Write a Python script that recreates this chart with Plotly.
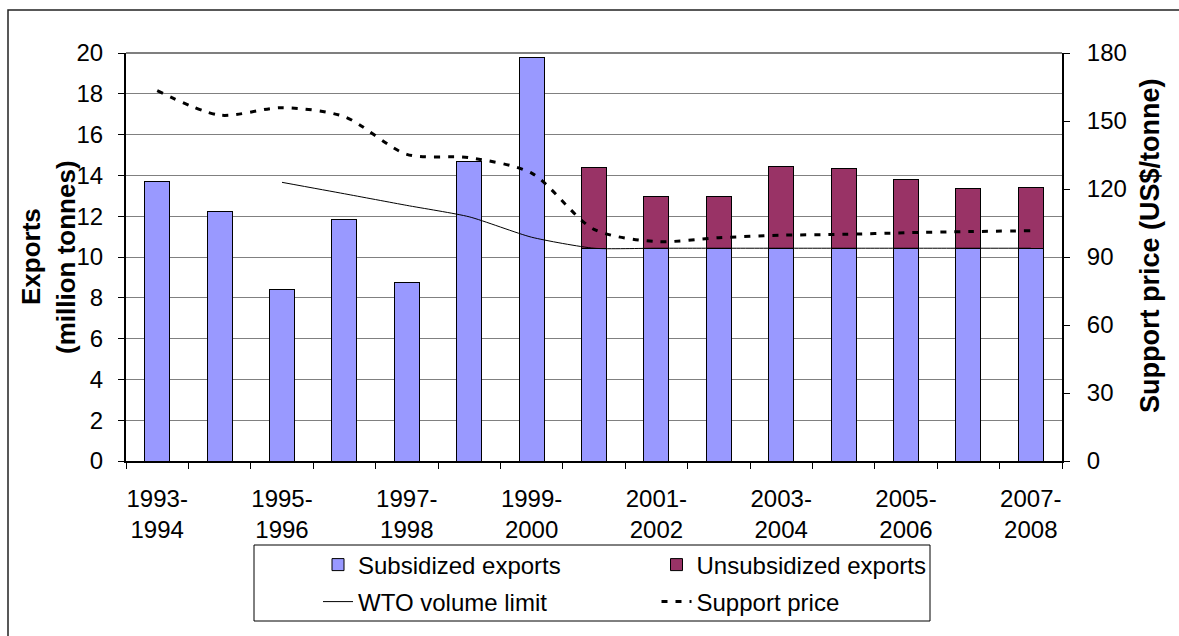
import plotly.graph_objects as go

categories = ["1993-1994", "1994-1995", "1995-1996", "1996-1997", "1997-1998",
              "1998-1999", "1999-2000", "2000-2001", "2001-2002", "2002-2003",
              "2003-2004", "2004-2005", "2005-2006", "2006-2007", "2007-2008"]
subsidized = [13.69, 12.25, 8.43, 11.85, 8.77, 14.66, 19.79,
              10.43, 10.43, 10.43, 10.43, 10.43, 10.43, 10.43, 10.43]
unsubsidized = [None, None, None, None, None, None, None,
                3.97, 2.56, 2.53, 4.00, 3.93, 3.36, 2.92, 3.00]
wto_limit = [None, None, 13.66, 13.10, 12.53, 11.97, 10.97,
             10.43, 10.43, 10.43, 10.43, 10.43, 10.43, 10.43, 10.43]
support_price = [163.4, 152.6, 155.9, 151.9, 135.3, 133.8, 127.0,
                 102.2, 96.8, 98.5, 99.6, 100.0, 100.7, 101.2, 101.6]

FONT = "Liberation Sans, Arial, sans-serif"
W, H = 1179, 636
L, R, T, B = 126, 1062, 53, 461

def px(x):
    return (x - L) / (R - L)

def py(y):
    return (B - y) / (B - T)

xs = list(range(len(categories)))
tick_idx = xs[::2]
tick_text = [categories[i].replace("-", "-<br>") for i in tick_idx]

fig = go.Figure()
fig.add_trace(go.Bar(x=xs, y=subsidized, name="Subsidized exports",
                     marker=dict(color="#9999FF", line=dict(color="black", width=1)),
                     width=0.4, legend="legend", showlegend=True))
fig.add_trace(go.Bar(x=xs, y=unsubsidized, name="Unsubsidized exports",
                     marker=dict(color="#993366", line=dict(color="black", width=1)),
                     width=0.4, legend="legend2", showlegend=True))
fig.add_trace(go.Scatter(x=xs, y=wto_limit, name="WTO volume limit", mode="lines",
                         line=dict(color="black", width=1, shape="spline", smoothing=0.6),
                         legend="legend3", showlegend=True))
fig.add_trace(go.Scatter(x=xs, y=support_price, name="Support price", mode="lines",
                         yaxis="y2",
                         line=dict(color="black", width=3, dash="6px,8px", shape="spline", smoothing=0.8),
                         legend="legend4", showlegend=True))

axis_font = dict(family=FONT, size=24, color="black")
leg_common = dict(font=dict(family=FONT, size=24, color="black"),
                  bgcolor="rgba(0,0,0,0)", borderwidth=0, visible=True,
                  xanchor="left", yanchor="middle")

fig.update_layout(
    width=W, height=H,
    margin=dict(l=L, r=W - R, t=T, b=H - B, pad=0),
    paper_bgcolor="white", plot_bgcolor="white",
    barmode="stack",
    showlegend=True,
    font=dict(family=FONT, size=24, color="black"),
    xaxis=dict(range=[-0.5, 14.5], tickmode="array", tickvals=tick_idx, ticktext=tick_text,
               ticks="", showgrid=False, zeroline=False,
               showline=True, linecolor="black", linewidth=1.5,
               tickfont=axis_font, ticklabelstandoff=15,
               minor=dict(tickmode="array", tickvals=[i - 0.5 for i in range(len(categories) + 1)],
                          ticks="outside", ticklen=6, tickcolor="black", tickwidth=1,
                          showgrid=False)),
    yaxis=dict(range=[0, 20], dtick=2, tick0=0, showgrid=True, gridcolor="#808080", gridwidth=1,
               zeroline=False, showline=True, linecolor="black", linewidth=2,
               ticks="outside", ticklen=6, tickcolor="black", tickfont=axis_font,
               ticklabelstandoff=10),
    yaxis2=dict(range=[0, 180], dtick=30, tick0=0, overlaying="y", side="right",
                showgrid=False, zeroline=False, showline=True, linecolor="black", linewidth=2,
                ticks="outside", ticklen=6, tickcolor="black", tickfont=axis_font,
                ticklabelstandoff=12),
    legend=dict(x=px(318), y=py(565), **leg_common),
    legend2=dict(x=px(656.5), y=py(565), **leg_common),
    legend3=dict(x=px(318), y=py(602), **leg_common),
    legend4=dict(x=px(656.5), y=py(602), **leg_common),
    shapes=[
        # outer chart border
        dict(type="rect", xref="paper", yref="paper", x0=px(8), x1=1.3, y0=-0.6, y1=py(10),
             line=dict(color="#222222", width=1.5), layer="below"),
        # plot area top border
        dict(type="line", xref="paper", yref="paper", x0=0, x1=1, y0=1, y1=1,
             line=dict(color="#555555", width=1.5)),
        # legend box
        dict(type="rect", xref="paper", yref="paper", x0=px(254), x1=px(930), y0=py(621), y1=py(545),
             line=dict(color="black", width=1)),
    ],
    annotations=[
        dict(text="<b>Exports</b>", xref="paper", yref="paper", x=px(31), y=py(257),
             textangle=-90, showarrow=False, xanchor="center", yanchor="middle",
             font=dict(family=FONT, size=26, color="black")),
        dict(text="<b>(million tonnes)</b>", xref="paper", yref="paper", x=px(66), y=py(257),
             textangle=-90, showarrow=False, xanchor="center", yanchor="middle",
             font=dict(family=FONT, size=26, color="black")),
        dict(text="<b>Support price (US$/tonne)</b>", xref="paper", yref="paper", x=px(1150), y=py(246),
             textangle=-90, showarrow=False, xanchor="center", yanchor="middle",
             font=dict(family=FONT, size=27, color="black")),
    ],
)

fig.write_html("out.html")
